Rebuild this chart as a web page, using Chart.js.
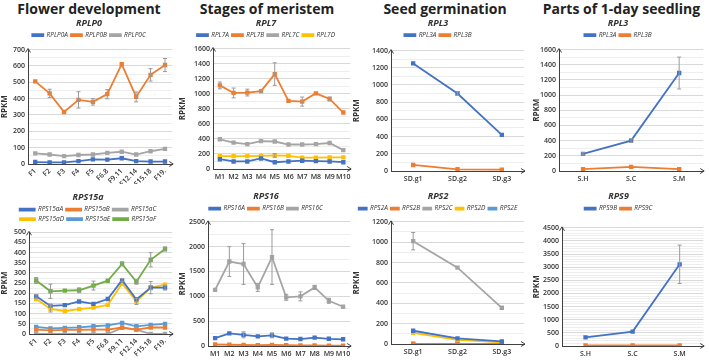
<!DOCTYPE html>
<html lang="en">
<head>
<meta charset="UTF-8">
<title>Ribosomal protein genes - RPKM</title>
<script src="https://cdn.jsdelivr.net/npm/chart.js"></script>
<style>
    body {
        margin: 0;
        width: 709px;
        height: 360px;
        background: #fff;
        font-family: 'Open Sans', sans-serif;
        position: relative;
        overflow: hidden;
    }
    .col-title {
        position: absolute;
        top: -1px;
        font-weight: bold;
        font-size: 14px;
        color: #222;
        text-align: center;
    }
    .panel { position: absolute; }
</style>
</head>
<body>
<div class="col-title" style="left:0;width:178px">Flower development</div>
<div class="col-title" style="left:178px;width:178px">Stages of meristem</div>
<div class="col-title" style="left:356px;width:178px">Seed germination</div>
<div class="col-title" style="left:534px;width:175px">Parts of 1-day seedling</div>

<div class="panel" style="left:0;top:14px;width:178px;height:170px"><canvas id="c1"></canvas></div>
<div class="panel" style="left:178px;top:14px;width:178px;height:170px"><canvas id="c2"></canvas></div>
<div class="panel" style="left:352px;top:14px;width:178px;height:170px"><canvas id="c3"></canvas></div>
<div class="panel" style="left:532px;top:14px;width:177px;height:170px"><canvas id="c4"></canvas></div>
<div class="panel" style="left:0;top:186px;width:178px;height:174px"><canvas id="c5"></canvas></div>
<div class="panel" style="left:178px;top:186px;width:178px;height:174px"><canvas id="c6"></canvas></div>
<div class="panel" style="left:352px;top:186px;width:178px;height:174px"><canvas id="c7"></canvas></div>
<div class="panel" style="left:532px;top:186px;width:177px;height:174px"><canvas id="c8"></canvas></div>

<script>
// categories
const flowerStages = ['F1', 'F2', 'F3', 'F4', 'F5', 'F6.8', 'F9.11', 'F12.14', 'F15.18', 'F19.'];
const meristemStages = ['M1', 'M2', 'M3', 'M4', 'M5', 'M6', 'M7', 'M8', 'M9', 'M10'];
const seedStages = ['SD.g1', 'SD.g2', 'SD.g3'];
const seedlingParts = ['S.H', 'S.C', 'S.M'];

// RPLP0 - flower development
const rplp0A = [12, 10, 10, 18, 28, 27, 35, 18, 15, 15];
const rplp0B = [505, 432, 318, 392, 380, 427, 610, 410, 545, 605];
const rplp0BErr = [0, 25, 0, 50, 20, 28, 0, 30, 38, 40];
const rplp0C = [65, 58, 48, 55, 58, 68, 75, 58, 78, 92];

// RPL7 - meristem
const rpl7A = [130, 100, 100, 140, 90, 100, 110, 105, 100, 90];
const rpl7B = [1110, 1010, 1015, 1035, 1260, 905, 895, 1005, 930, 750];
const rpl7BErr = [45, 65, 45, 20, 150, 0, 60, 0, 25, 0];
const rpl7C = [395, 350, 330, 370, 365, 325, 325, 330, 345, 250];
const rpl7D = [170, 170, 170, 175, 180, 175, 150, 150, 155, 155];
const rpl7DErr = [0, 0, 0, 0, 25, 0, 0, 0, 0, 0];

// RPL3 - seed germination
const rpl3SeedA = [1250, 900, 420];
const rpl3SeedAErr = [0, 20, 0];
const rpl3SeedB = [70, 20, 15];

// RPL3 - seedling parts
const rpl3SeedlingA = [225, 400, 1290];
const rpl3SeedlingAErr = [15, 25, 210];
const rpl3SeedlingB = [25, 55, 25];

// RPS15a - flower development
const rps15aA = [185, 138, 142, 160, 148, 172, 265, 170, 228, 228];
const rps15aAErr = [8, 8, 0, 0, 0, 0, 8, 0, 10, 12];
const rps15aB = [22, 18, 20, 20, 22, 22, 32, 22, 32, 32];
const rps15aC = [0, 0, 0, 0, 0, 0, 30, 22, 0, 0];
const rps15aD = [172, 123, 113, 122, 130, 143, 248, 160, 228, 243];
const rps15aDErr = [0, 15, 0, 0, 0, 0, 0, 15, 30, 0];
const rps15aE = [35, 28, 30, 33, 38, 42, 55, 38, 45, 50];
const rps15aF = [263, 210, 213, 215, 238, 262, 345, 257, 365, 418];
const rps15aFErr = [15, 35, 0, 12, 22, 0, 10, 12, 35, 10];

// RPS16 - meristem
const rps16A = [160, 255, 225, 195, 215, 150, 140, 170, 145, 135];
const rps16AErr = [0, 0, 60, 0, 50, 0, 0, 0, 0, 0];
const rps16B = [30, 25, 20, 15, 20, 15, 10, 10, 5, 5];
const rps16C = [1130, 1700, 1650, 1180, 1790, 980, 1000, 1180, 910, 790];
const rps16CErr = [0, 300, 410, 80, 550, 60, 90, 40, 50, 0];

// RPS2 - seed germination
const rps2A = [130, 55, 25];
const rps2B = [2, 1, 1];
const rps2C = [1010, 750, 355];
const rps2CErr = [85, 0, 15];
const rps2D = [110, 40, 15];
const rps2E = [0, 0, 0];

// RPS9 - seedling parts
const rps9B = [330, 550, 3110];
const rps9BErr = [0, 0, 730];
const rps9C = [20, 20, 20];

const BLUE = '#4472C4', ORANGE = '#ED7D31', GREY = '#A5A5A5',
      YELLOW = '#FFC000', LIGHTBLUE = '#5B9BD5', GREEN = '#70AD47';
const FONT = "'Open Sans', sans-serif";

const errorBars = {
    id: 'errorBars',
    afterDatasetsDraw(chart) {
        const ctx = chart.ctx;
        const y = chart.scales.y;
        chart.data.datasets.forEach((ds, i) => {
            if (!ds.errors) return;
            const meta = chart.getDatasetMeta(i);
            ds.errors.forEach((e, j) => {
                if (!e) return;
                const x = meta.data[j].x;
                const top = y.getPixelForValue(ds.data[j] + e);
                const bot = y.getPixelForValue(Math.max(0, ds.data[j] - e));
                ctx.save();
                ctx.strokeStyle = '#9a9a9a';
                ctx.lineWidth = 1;
                ctx.beginPath();
                ctx.moveTo(x, top); ctx.lineTo(x, bot);
                ctx.moveTo(x - 2, top); ctx.lineTo(x + 2, top);
                ctx.moveTo(x - 2, bot); ctx.lineTo(x + 2, bot);
                ctx.stroke();
                ctx.restore();
            });
        });
    }
};

// little arrow heads at the end of both axes, like the original
const axisArrows = {
    id: 'axisArrows',
    afterDraw(chart) {
        const { left, right, top, bottom } = chart.chartArea;
        const ctx = chart.ctx;
        ctx.save();
        ctx.strokeStyle = '#404040';
        ctx.lineWidth = 1;
        ctx.beginPath();
        ctx.moveTo(left - 2.5, top + 3); ctx.lineTo(left, top - 1); ctx.lineTo(left + 2.5, top + 3);
        ctx.moveTo(right - 3, bottom - 2.5); ctx.lineTo(right + 1, bottom); ctx.lineTo(right - 3, bottom + 2.5);
        ctx.stroke();
        ctx.restore();
    }
};

function makeChart(id, cfg) {
    const datasets = cfg.series.map(s => ({
        label: s[0],
        data: s[1],
        borderColor: s[2],
        backgroundColor: s[2],
        errors: s[3],
        xAxisID: 'x',
        yAxisID: 'y',
        borderWidth: 1.8,
        pointRadius: 1.8,
        pointStyle: 'rect',
        tension: 0
    }));
    const tickFont = { family: FONT, size: 7, weight: '600' };
    return new Chart(document.getElementById(id), {
        type: 'line',
        data: { labels: cfg.labels, datasets },
        options: {
            responsive: true,
            maintainAspectRatio: false,
            animation: false,
            layout: { padding: { top: 0, right: cfg.pr || 0, left: 0, bottom: 0 } },
            plugins: {
                title: {
                    display: true,
                    text: cfg.gene,
                    color: '#333',
                    font: { family: FONT, size: 9, style: 'italic', weight: 'bold' },
                    padding: { top: cfg.tp, bottom: 0 }
                },
                legend: {
                    labels: {
                        boxWidth: cfg.bw || 11,
                        boxHeight: 2,
                        padding: 3,
                        color: '#333',
                        font: { family: FONT, size: 6.5, style: 'italic' }
                    }
                },
                tooltip: { enabled: false }
            },
            scales: {
                // empty box that keeps a gap between the legend and the plot
                spacer: {
                    type: 'linear',
                    position: 'top',
                    min: 0, max: 1,
                    ticks: { display: false },
                    grid: { display: false, drawTicks: false },
                    border: { display: false },
                    afterFit: s => { s.height = cfg.sp; }
                },
                x: {
                    offset: true,
                    grid: { display: false, drawTicks: false },
                    border: { color: '#404040' },
                    ticks: {
                        font: tickFont, color: '#333', autoSkip: false, padding: cfg.rot ? 3 : 4,
                        maxRotation: cfg.rot || 0, minRotation: cfg.rot || 0
                    },
                    afterFit: s => { s.height = cfg.xh; }
                },
                yMinor: {
                    type: 'linear',
                    position: 'left',
                    min: 0, max: cfg.max,
                    z: -1,
                    ticks: { display: false, stepSize: cfg.minor },
                    grid: { color: '#eeeeee', drawTicks: false },
                    border: { display: false },
                    afterFit: s => { s.width = 0; }
                },
                y: {
                    min: 0, max: cfg.max,
                    ticks: { stepSize: cfg.step, autoSkip: false, font: tickFont, color: '#333', padding: 3, callback: v => v },
                    grid: { color: '#d9d9d9', drawTicks: false },
                    border: { color: '#404040' },
                    title: {
                        display: true, text: 'RPKM', color: '#333', padding: { top: 0, bottom: 2 },
                        font: { family: FONT, size: 8, weight: 'bold' }
                    },
                    afterFit: s => { s.width = cfg.yw; }
                }
            }
        },
        plugins: [errorBars, axisArrows]
    });
}

makeChart('c1', {
    gene: 'RPLP0', labels: flowerStages, max: 700, step: 100, minor: 50,
    yw: 28, pr: 0, xh: 20, rot: 45, tp: 4, sp: 1.2,
    series: [['RPLP0A', rplp0A, BLUE], ['RPLP0B', rplp0B, ORANGE, rplp0BErr], ['RPLP0C', rplp0C, GREY]]
});
makeChart('c2', {
    gene: 'RPL7', labels: meristemStages, max: 1600, step: 200, minor: 100,
    yw: 35, pr: 2, xh: 15, tp: 4, sp: 0.2,
    series: [['RPL7A', rpl7A, BLUE], ['RPL7B', rpl7B, ORANGE, rpl7BErr], ['RPL7C', rpl7C, GREY], ['RPL7D', rpl7D, YELLOW, rpl7DErr]]
});
makeChart('c3', {
    gene: 'RPL3', labels: seedStages, max: 1400, step: 200, minor: 100,
    yw: 39, pr: 6, xh: 13, tp: 4, sp: 2.2,
    series: [['RPL3A', rpl3SeedA, BLUE, rpl3SeedAErr], ['RPL3B', rpl3SeedB, ORANGE]]
});
makeChart('c4', {
    gene: 'RPL3', labels: seedlingParts, max: 1600, step: 200, minor: 100,
    yw: 27, pr: 5, xh: 13, tp: 4, sp: 1.2,
    series: [['RPL3A', rpl3SeedlingA, BLUE, rpl3SeedlingAErr], ['RPL3B', rpl3SeedlingB, ORANGE]]
});
makeChart('c5', {
    gene: 'RPS15a', labels: flowerStages, max: 500, step: 50, minor: 25,
    yw: 29, pr: 2, xh: 26, rot: 45, tp: 6.5, sp: 0, bw: 15,
    series: [['RPS15aA', rps15aA, BLUE, rps15aAErr], ['RPS15aB', rps15aB, ORANGE], ['RPS15aC', rps15aC, GREY],
             ['RPS15aD', rps15aD, YELLOW, rps15aDErr], ['RPS15aE', rps15aE, LIGHTBLUE], ['RPS15aF', rps15aF, GREEN, rps15aFErr]]
});
makeChart('c6', {
    gene: 'RPS16', labels: meristemStages, max: 2500, step: 500, minor: 250,
    yw: 30, pr: 2, xh: 14, tp: 5.5, sp: 0,
    series: [['RPS16A', rps16A, BLUE, rps16AErr], ['RPS16B', rps16B, ORANGE], ['RPS16C', rps16C, GREY, rps16CErr]]
});
makeChart('c7', {
    gene: 'RPS2', labels: seedStages, max: 1200, step: 200, minor: 100,
    yw: 39, pr: 6, xh: 16, tp: 5.5, sp: 0, bw: 8,
    series: [['RPS2A', rps2A, BLUE], ['RPS2B', rps2B, ORANGE], ['RPS2C', rps2C, GREY, rps2CErr],
             ['RPS2D', rps2D, YELLOW], ['RPS2E', rps2E, LIGHTBLUE]]
});
makeChart('c8', {
    gene: 'RPS9', labels: seedlingParts, max: 4500, step: 500, minor: 100,
    yw: 30, pr: 4, xh: 14, tp: 5.5, sp: 6,
    series: [['RPS9B', rps9B, BLUE, rps9BErr], ['RPS9C', rps9C, ORANGE]]
});
</script>
</body>
</html>
